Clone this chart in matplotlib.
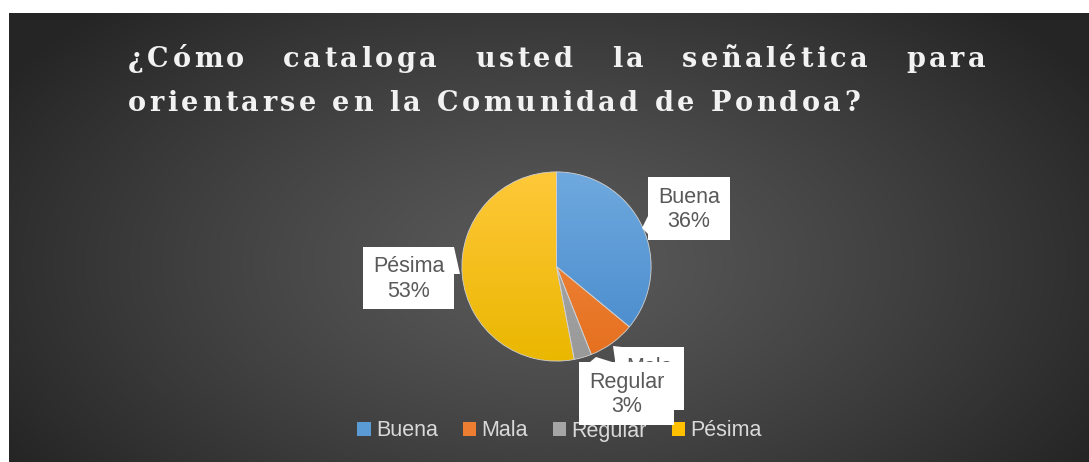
import numpy as np
import matplotlib
matplotlib.use("Agg")
from matplotlib import pyplot as plt
from matplotlib.patches import Patch, Rectangle, Polygon
from matplotlib.colors import LinearSegmentedColormap
from matplotlib.font_manager import FontProperties, findfont
from matplotlib.ft2font import FT2Font

W, H = 1089, 462

categorias = ["Buena", "Mala", "Regular", "Pésima"]
porcentajes = [36, 8, 3, 53]
colores = ["#5b9bd5", "#ed7d31", "#a5a5a5", "#ffc000"]
colores_top = ["#6fa9de", "#f48c46", "#adadad", "#ffc83a"]
colores_bot = ["#4689cc", "#e5701e", "#999999", "#eab700"]

titulo_1 = ["¿Cómo", "cataloga", "usted", "la", "señalética", "para"]
titulo_2 = "orientarse en la Comunidad de Pondoa?"


def px(x, y):
    # pixeles (desde arriba a la izquierda) -> coordenadas de figura
    return x / W, 1 - y / H


fig = plt.figure(figsize=(W / 100, H / 100), dpi=100, facecolor="white")

# fondo oscuro con degradado radial
ax_bg = fig.add_axes([9 / W, 0, (W - 9) / W, (H - 13) / H])
ax_bg.set_axis_off()
gx, gy = np.meshgrid(np.arange(W - 9), np.arange(H - 13))
r = np.sqrt(((gx - 540) / 640.0) ** 2 + ((gy - 250) / 360.0) ** 2)
r = np.clip(r, 0, 1)
c0, c1 = 0x5a / 255, 0x25 / 255
grad = c0 + (c1 - c0) * r ** 1.2
ax_bg.imshow(np.dstack([grad, grad, grad]), aspect="auto", extent=(0, 1, 0, 1),
             interpolation="bilinear")
ax_bg.set_xlim(0, 1)
ax_bg.set_ylim(0, 1)

# titulo justificado con espaciado entre letras
tam = 19.5
fp = FontProperties(family="DejaVu Serif", weight="bold", size=tam)
ft = FT2Font(findfont(fp), hinting_factor=1)
ft.set_size(tam, 100)


def avance(ch):
    return ft.load_char(ord(ch)).linearHoriAdvance / 65536.0


def ancho(palabra, trk):
    return sum(avance(c) for c in palabra) + trk * (len(palabra) - 1)


x_ini, x_fin1, x_fin2 = 128, 985, 860
trk = (x_fin2 - x_ini - sum(avance(c) for c in titulo_2)) / (len(titulo_2) - 1)


def dibuja(palabra, x, y, trk):
    for c in palabra:
        fig.text(*px(x, y), c, fontproperties=fp, color="#f2f2f2", va="baseline", ha="left")
        x += avance(c) + trk
    return x


anchos = [ancho(p, trk) for p in titulo_1]
hueco = (x_fin1 - x_ini - sum(anchos)) / (len(titulo_1) - 1)
x = x_ini
for p, a in zip(titulo_1, anchos):
    dibuja(p, x, 67, trk)
    x += a + hueco
dibuja(titulo_2, x_ini, 111, trk)

# pastel
cx, cy, rad = 556.5, 266.5, 96.5
ax = fig.add_axes([(cx - rad) / W, (H - cy - rad) / H, 2 * rad / W, 2 * rad / H])
ax.set_axis_off()
wedges, _ = ax.pie(porcentajes, colors=colores, startangle=90, counterclock=False,
                   wedgeprops=dict(edgecolor="#d0d0d0", linewidth=0.6))
ax.set_xlim(-1.02, 1.02)
ax.set_ylim(-1.02, 1.02)
vert = np.linspace(0, 1, 256).reshape(-1, 1)
for w, ct, cb in zip(wedges, colores_top, colores_bot):
    cmap = LinearSegmentedColormap.from_list("g", [cb, ct])
    im = ax.imshow(vert, cmap=cmap, extent=(-1, 1, -1, 1), origin="lower",
                   aspect="auto", zorder=2)
    im.set_clip_path(w)
    w.set_zorder(3)
    w.set_facecolor("none")

# etiquetas con recuadro blanco
lab_fp = FontProperties(family="Liberation Sans", size=15.5)
cajas = {
    "Buena": (648, 177, 730, 240, [(648, 216), (648, 234), (642, 228)]),
    "Pésima": (363, 247, 454, 309, [(454, 247), (460, 274), (454, 274)]),
    "Mala": (615, 347, 684, 410, [(615, 360), (613, 346), (622, 347)]),
    "Regular": (579, 362, 674, 425, [(590, 362), (596, 357), (612, 362)]),
}
z = 5
for nombre, pct in zip(categorias, porcentajes):
    x0, y0, x1, y1, tri = cajas[nombre]
    ax.add_patch(Rectangle(px(x0, y1), (x1 - x0) / W, (y1 - y0) / H,
                           transform=fig.transFigure, facecolor="white",
                           edgecolor="none", clip_on=False, zorder=z))
    ax.add_patch(Polygon([px(*p) for p in tri], closed=True, transform=fig.transFigure,
                         facecolor="white", edgecolor="none", clip_on=False, zorder=z))
    ax.text(*px((x0 + x1) / 2, (y0 + y1) / 2 + 1), f"{nombre}\n{pct}%",
            transform=fig.transFigure, ha="center", va="center", color="#595959",
            fontproperties=lab_fp, linespacing=1.2, zorder=z + 0.5, clip_on=False)
    z += 1

# leyenda
handles = [Patch(facecolor=c, edgecolor="none") for c in colores]
ax_bg.legend(handles, categorias, loc="center", bbox_to_anchor=px(559.5, 431),
             bbox_transform=fig.transFigure, ncol=4, frameon=False,
             prop=FontProperties(family="Liberation Sans", size=15.5),
             labelcolor="#d9d9d9", handlelength=0.62, handleheight=0.62,
             handletextpad=0.25, columnspacing=1.15, borderpad=0, borderaxespad=0)

fig.savefig("out.png", dpi=100, facecolor="white")
